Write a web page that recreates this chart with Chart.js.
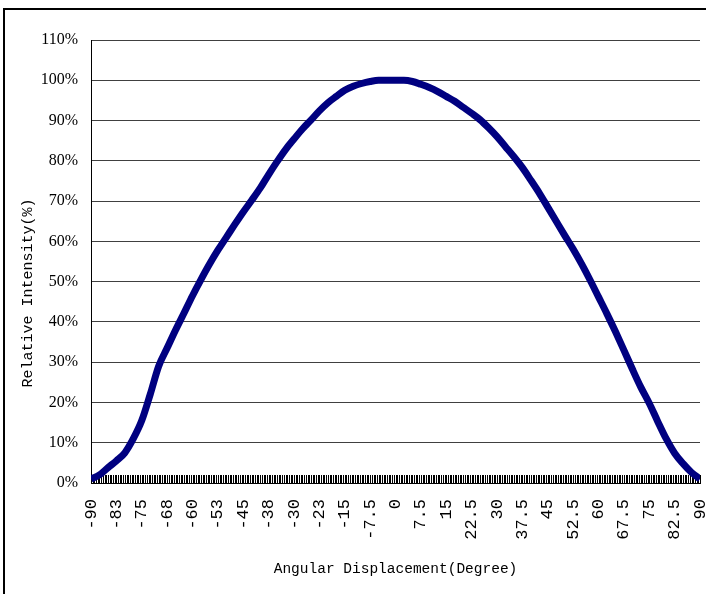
<!DOCTYPE html>
<html>
<head>
<meta charset="utf-8">
<script src="https://cdn.jsdelivr.net/npm/chart.js@4.4.1/dist/chart.umd.min.js"></script>
<style>
  html, body { margin: 0; padding: 0; background: #fff; overflow: hidden; }
  #frame { position: absolute; left: 3px; top: 8px; border: 2px solid #000; width: 720px; height: 584px; }
  #chart { display: block; }
</style>
</head>
<body>
<div id="frame"><canvas id="chart" width="720" height="584"></canvas></div>
<script>
// angle (degree) and relative intensity (%)
var angles = [-90, -87.5, -85, -82.5, -80, -77.5, -75, -72.5, -70, -67.5, -65, -62.5, -60, -57.5, -55, -52.5, -50, -47.5, -45, -42.5, -40, -37.5, -35, -32.5, -30, -27.5, -25, -22.5, -20, -17.5, -15, -12.5, -10, -7.5, -5, -2.5,
              0, 2.5, 5, 7.5, 10, 12.5, 15, 17.5, 20, 22.5, 25, 27.5, 30, 32.5, 35, 37.5, 40, 42.5, 45, 47.5, 50, 52.5, 55, 57.5, 60, 62.5, 65, 67.5, 70, 72.5, 75, 77.5, 80, 82.5, 85, 87.5, 90];
var intensity = [1, 2, 3.8, 5.5, 7.5, 11, 15.5, 22, 29, 33.5, 38, 42.2, 46.5, 50.5, 54.3, 57.8, 61, 64.2, 67.3, 70.2, 73.2, 76.6, 79.8, 82.8, 85.4, 87.9, 90.1, 92.4, 94.4, 96, 97.5, 98.5, 99.2, 99.7, 100, 100,
                 100, 100, 99.7, 99, 98.2, 97.2, 96, 94.8, 93.3, 91.8, 90.2, 88.2, 86, 83.5, 81, 78.3, 75.2, 72, 68.5, 65, 61.5, 58.1, 54.4, 50.4, 46.2, 42, 37.6, 33, 28.3, 23.8, 19.8, 15.3, 11, 7.4, 4.8, 2.6, 1];

// labels shown every 7.5 degree, category ticks every 0.5 degree
var xTickLabels = ["-90", "-83", "-75", "-68", "-60", "-53", "-45", "-38", "-30", "-23", "-15", "-7.5", "0",
                   "7.5", "15", "22.5", "30", "37.5", "45", "52.5", "60", "67.5", "75", "82.5", "90"];
var xTickStep = 0.5;
var labelEvery = 15;

var points = angles.map(function (a, i) { return { x: a, y: intensity[i] }; });

// tick marks drawn inside the plot, like the original
var innerTicks = {
    id: "innerTicks",
    beforeDatasetsDraw: function (chart) {
        var sc = chart.scales.x;
        var ctx = chart.ctx;
        var bottom = chart.chartArea.bottom;
        ctx.save();
        ctx.strokeStyle = "#000";
        ctx.lineWidth = 1;
        ctx.beginPath();
        for (var i = 0; i < sc.ticks.length; i++) {
            var px = Math.round(sc.getPixelForTick(i)) + 0.5;
            ctx.moveTo(px, bottom);
            ctx.lineTo(px, bottom - 8);
        }
        ctx.stroke();
        ctx.restore();
    }
};

new Chart(document.getElementById("chart"), {
    type: "line",
    data: {
        datasets: [{
            data: points,
            borderColor: "#000080",
            backgroundColor: "#000080",
            borderWidth: 7,
            pointRadius: 0,
            cubicInterpolationMode: "monotone"
        }]
    },
    options: {
        responsive: false,
        animation: false,
        layout: { padding: { left: 14, right: 25, top: 30, bottom: 14 } },
        plugins: { legend: { display: false }, tooltip: { enabled: false } },
        scales: {
            x: {
                type: "linear",
                min: -90,
                max: 90,
                afterBuildTicks: function (scale) {
                    var t = [];
                    for (var k = 0; k <= 360; k++) t.push({ value: -90 + k * xTickStep });
                    scale.ticks = t;
                },
                afterFit: function (scale) {
                    scale.paddingLeft = 0;
                    scale.paddingRight = 0;
                    scale.height = 97;
                },
                ticks: {
                    autoSkip: false,
                    minRotation: 90,
                    maxRotation: 90,
                    padding: 16,
                    color: "#000",
                    font: { family: "Liberation Mono", size: 17 },
                    callback: function (v, i) {
                        return i % labelEvery === 0 ? xTickLabels[i / labelEvery] : "";
                    }
                },
                grid: { drawOnChartArea: false, drawTicks: false },
                border: { display: true, color: "#000", width: 1 },
                title: {
                    display: true,
                    text: "Angular Displacement(Degree)",
                    color: "#000",
                    font: { family: "Liberation Mono", size: 14.5 },
                    padding: { top: 4, bottom: 2 }
                }
            },
            y: {
                min: 0,
                max: 110,
                afterFit: function (scale) { scale.width = 72; },
                ticks: {
                    stepSize: 10,
                    padding: 13,
                    color: "#000",
                    font: { family: "Liberation Serif", size: 16 },
                    callback: function (v) { return v + "%"; }
                },
                grid: { color: "#404040", lineWidth: 1, drawTicks: false },
                border: { display: true, color: "#000", width: 1 },
                title: {
                    display: true,
                    text: "Relative Intensity(%)       ",
                    color: "#000",
                    font: { family: "Liberation Mono", size: 15 },
                    padding: { top: 0, bottom: 4 }
                }
            }
        }
    },
    plugins: [innerTicks]
});
</script>
</body>
</html>
